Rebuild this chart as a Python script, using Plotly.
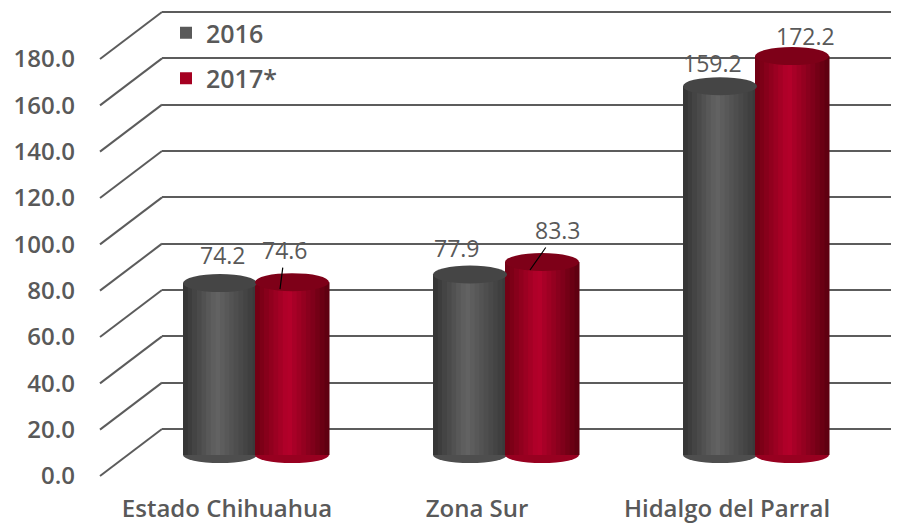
import plotly.graph_objects as go

# ---------------- data ----------------
categories = ["Estado Chihuahua", "Zona Sur", "Hidalgo del Parral"]
series_names = ["2016", "2017*"]
values_2016 = [74.2, 77.9, 159.2]
values_2017 = [74.6, 83.3, 172.2]
tick_values = [0, 20, 40, 60, 80, 100, 120, 140, 160, 180]
tick_labels = ["0.0", "20.0", "40.0", "60.0", "80.0", "100.0", "120.0", "140.0", "160.0", "180.0"]

# ---------------- layout geometry (page has an 8px body margin) ----------------
PAGE = 8
W, H = 899 - PAGE, 523 - PAGE
MB = 31
PH = H - MB                     # plot-area height in px
S = 417 / 180                   # px per unit
def fy(screen_px):
    return screen_px - PAGE
def fx(screen_px):
    return screen_px - PAGE
def yrange(zero_screen):
    z = fy(zero_screen)
    return [(z - PH) / S, z / S]

GRAY = "#595959"
RED = "#a50021"
TXT = "#595959"
GRID = "#5c5c5c"

STEP = 250                      # px per category
LABEL0 = 227                    # screen x of first category label
WALL_X = 162                    # screen x where back wall starts
FRONT_X = 100                   # screen x where the diagonals start
DEPTH_PX = 47                   # vertical px between front labels and wall lines
BAR_W = 74 / STEP
offsets = [(183 - LABEL0) / STEP, (183 + 72 - LABEL0) / STEP]
series_vals = [values_2016, values_2017]
legend_colors = [GRAY, RED]
profiles = [
    [(0.0, (0x33, 0x33, 0x33)), (0.45, (0x63, 0x63, 0x63)), (1.0, (0x38, 0x38, 0x38))],
    [(0.0, (0x6e, 0x00, 0x12)), (0.45, (0xb6, 0x00, 0x2b)), (1.0, (0x5a, 0x00, 0x0e))],
]
cap_colors = ["#454545", "#7e0018"]
base_colors = ["#4e4e4e", "#980020"]

def interp(profile, t):
    for (t0, c0), (t1, c1) in zip(profile[:-1], profile[1:]):
        if t0 <= t <= t1:
            f = (t - t0) / (t1 - t0)
            return "rgb(%d,%d,%d)" % tuple(round(a + (b - a) * f) for a, b in zip(c0, c1))
    return "rgb(%d,%d,%d)" % profile[-1][1]

fig = go.Figure()
N = 16
shapes = []
for si in range(2):
    vals = series_vals[si]
    fig.add_trace(go.Bar(
        x=categories, y=vals, name=series_names[si], width=BAR_W, offset=offsets[si],
        marker=dict(color=legend_colors[si], line=dict(width=0)),
        legendgroup=series_names[si], showlegend=True, hoverinfo="skip"))
    for k in range(N):
        t = (k + 0.5) / N
        fig.add_trace(go.Bar(
            x=categories, y=vals, width=BAR_W / N + 0.002,
            offset=offsets[si] + k * BAR_W / N,
            marker=dict(color=interp(profiles[si], t), line=dict(width=0)),
            showlegend=False, legendgroup=series_names[si], hoverinfo="skip"))
    for i, v in enumerate(vals):
        x0 = i + offsets[si]
        x1 = x0 + BAR_W
        shapes.append(dict(type="circle", xref="x", yref="y", x0=x0, x1=x1,
                           ysizemode="pixel", yanchor=v, y0=-9, y1=9,
                           fillcolor=cap_colors[si], line=dict(width=0), layer="above"))
        shapes.append(dict(type="circle", xref="x", yref="y", x0=x0, x1=x1,
                           ysizemode="pixel", yanchor=0, y0=-8, y1=8,
                           fillcolor=base_colors[si], line=dict(width=0), layer="below"))

# perspective diagonals (front tick -> back wall gridline)
for v in tick_values:
    shapes.append(dict(type="line", xref="paper", yref="y2",
                       x0=fx(FRONT_X) / W, x1=fx(WALL_X) / W,
                       ysizemode="pixel", yanchor=v, y0=-DEPTH_PX, y1=0,
                       line=dict(color=GRID, width=2), layer="below"))

# data labels
label_font = dict(family="Open Sans", size=23, color=TXT)
ann = []
shift_2016 = [(-4, 28), (-20, 27), (-15, 23)]
for i, v in enumerate(values_2016):
    ann.append(dict(x=categories[i], y=v, xref="x", yref="y", text=f"{v:.1f}",
                    showarrow=False, xshift=shift_2016[i][0], yshift=shift_2016[i][1],
                    font=label_font))
arrow_2017 = [(53, -7, 5, -39, True), (53, -8, 28, -40, True), (78, 20, 0, 0, False)]
for i, v in enumerate(values_2017):
    xs, ys, ax, ay, arrow = arrow_2017[i]
    ann.append(dict(x=categories[i], y=v, xref="x", yref="y", text=f"{v:.1f}",
                    showarrow=arrow, arrowhead=0, arrowwidth=1.2, arrowcolor="#000000",
                    standoff=0, ax=ax, ay=ay, xshift=xs, yshift=ys, font=label_font))

LABEL_RIGHT = 76                # screen x where front tick labels end
fig.update_layout(
    template="plotly",
    width=W, height=H,
    margin=dict(l=0, r=0, t=0, b=MB, autoexpand=False),
    paper_bgcolor="white", plot_bgcolor="white",
    barmode="overlay",
    showlegend=True,
    legend=dict(x=fx(166) / W, y=1 - fy(10) / PH, xanchor="left", yanchor="top",
                bgcolor="rgba(0,0,0,0)", traceorder="grouped", tracegroupgap=10,
                font=dict(family="Open Sans", size=25, color=TXT, weight=600)),
    xaxis=dict(domain=[fx(WALL_X) / W, 1.0], type="category", automargin=False,
               range=[(WALL_X - LABEL0) / STEP, (899 - LABEL0) / STEP],
               ticks="", showgrid=False, zeroline=False, showline=False,
               tickfont=dict(family="Open Sans", size=24, color=TXT, weight=600)),
    yaxis=dict(range=yrange(455), showgrid=False, showticklabels=False, automargin=False,
               zeroline=False, showline=False),
    yaxis2=dict(overlaying="y", anchor="x", side="left", range=yrange(429), automargin=False,
                tickmode="array", tickvals=tick_values, ticktext=tick_labels,
                ticks="", ticklabelshift=DEPTH_PX, ticklabelstandoff=WALL_X - LABEL_RIGHT,
                tickfont=dict(family="Open Sans", size=24, color=TXT, weight=600),
                showgrid=True, gridcolor=GRID, gridwidth=2, zeroline=False, showline=False),
    shapes=shapes,
    annotations=ann,
)

fig.write_html("out.html")
